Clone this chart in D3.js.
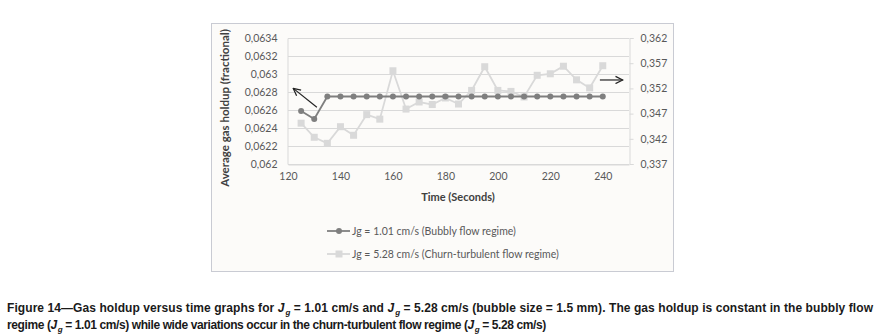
<!DOCTYPE html>
<html>
<head>
<meta charset="utf-8">
<script src="https://cdn.jsdelivr.net/npm/d3@7"></script>
<style>
  body { margin: 0; background: #fff; }
  svg .chart-text { font-family: Lato, "Open Sans", sans-serif; }
  svg .caption text { font-family: "Liberation Sans Narrow", "Liberation Sans", Arial, sans-serif; }
</style>
</head>
<body>
<div id="chart"></div>
<script>
// time (s), both series share it
const times = [125, 130, 135, 140, 145, 150, 155, 160, 165, 170, 175, 180,
               185, 190, 195, 200, 205, 210, 215, 220, 225, 230, 235, 240];

// Jg = 1.01 cm/s, left axis
const bubbly = [0.06259, 0.06250, 0.06275, 0.06275, 0.06275, 0.06275, 0.06275, 0.06275,
                0.06275, 0.06275, 0.06275, 0.06275, 0.06275, 0.06275, 0.06275, 0.06275,
                0.06275, 0.06275, 0.06275, 0.06275, 0.06275, 0.06275, 0.06275, 0.06275];

// Jg = 5.28 cm/s, right axis
const churn = [0.3451, 0.3423, 0.3411, 0.3444, 0.3427, 0.3468, 0.3459, 0.3555,
               0.3479, 0.3493, 0.3488, 0.3501, 0.3489, 0.3516, 0.3563, 0.3516,
               0.3514, 0.3503, 0.3546, 0.3549, 0.3564, 0.3537, 0.3521, 0.3565];

const xTicks = [120, 140, 160, 180, 200, 220, 240];
const leftTicks = [0.062, 0.0622, 0.0624, 0.0626, 0.0628, 0.063, 0.0632, 0.0634];
const rightTicks = [0.337, 0.342, 0.347, 0.352, 0.357, 0.362];

const legendLabels = ['Jg = 1.01 cm/s (Bubbly flow regime)',
                      'Jg = 5.28 cm/s (Churn-turbulent flow regime)'];

const width = 880, height = 334;
const plot = { left: 288, right: 629, top: 38, bottom: 164 };

const svg = d3.select('#chart').append('svg')
    .attr('width', width)
    .attr('height', height);

// comma decimal like the original
const locale = d3.formatLocale({ decimal: ',', thousands: '.', grouping: [3], currency: ['', ''] });
const fmt = locale.format('~');

// chart area box
svg.append('rect')
    .attr('x', 211.5).attr('y', 23.5)
    .attr('width', 462).attr('height', 248)
    .attr('fill', '#fcfbf9')
    .attr('stroke', '#c9cbd3');

// scales
const x = d3.scaleLinear().domain([120, 250]).range([plot.left, plot.right]);
const yL = d3.scaleLinear().domain([0.062, 0.0634]).range([plot.bottom, plot.top]);
const yR = d3.scaleLinear().domain([0.337, 0.362]).range([plot.bottom, plot.top]);

// gridlines from left axis
svg.append('g')
    .selectAll('line')
    .data(leftTicks)
    .enter()
    .append('line')
    .attr('x1', plot.left).attr('x2', plot.right)
    .attr('y1', d => Math.round(yL(d)) + 0.5)
    .attr('y2', d => Math.round(yL(d)) + 0.5)
    .attr('stroke', '#d9d9d9');

// left axis
const leftAxis = svg.append('g')
    .attr('transform', `translate(${plot.left - 0.5},0)`)
    .call(d3.axisLeft(yL).tickValues(leftTicks).tickFormat(fmt).tickSize(0).tickPadding(10));
leftAxis.select('.domain').attr('stroke', '#d9d9d9');
leftAxis.selectAll('text').attr('class', 'chart-text').attr('fill', '#595959').style('font-size', '10.5px');

// right axis
const rightAxis = svg.append('g')
    .attr('transform', `translate(${plot.right + 0.5},0)`)
    .call(d3.axisRight(yR).tickValues(rightTicks).tickFormat(fmt).tickSize(4).tickPadding(7));
rightAxis.select('.domain').attr('stroke', '#d9d9d9');
rightAxis.selectAll('line').attr('stroke', '#d9d9d9');
rightAxis.selectAll('text').attr('class', 'chart-text').attr('fill', '#595959').style('font-size', '10.5px');

// bottom axis
const bottomAxis = svg.append('g')
    .attr('transform', `translate(0,${plot.bottom + 0.5})`)
    .call(d3.axisBottom(x).tickValues(xTicks).tickFormat(d3.format('d')).tickSize(0).tickPadding(8));
bottomAxis.select('.domain').attr('stroke', '#d9d9d9');
bottomAxis.selectAll('text').attr('class', 'chart-text').attr('fill', '#595959').style('font-size', '10.5px');

// churn series (behind)
const churnData = times.map((t, i) => ({ t, v: churn[i] }));
svg.append('path')
    .datum(churnData)
    .attr('fill', 'none')
    .attr('stroke', '#d9d9d9')
    .attr('stroke-width', 1.8)
    .attr('d', d3.line().x(d => x(d.t)).y(d => yR(d.v)));
svg.append('g')
    .selectAll('rect')
    .data(churnData)
    .enter()
    .append('rect')
    .attr('x', d => x(d.t) - 3.5)
    .attr('y', d => yR(d.v) - 3.5)
    .attr('width', 7).attr('height', 7)
    .attr('fill', '#d9d9d9');

// bubbly series
const bubblyData = times.map((t, i) => ({ t, v: bubbly[i] }));
svg.append('path')
    .datum(bubblyData)
    .attr('fill', 'none')
    .attr('stroke', '#7f7f7f')
    .attr('stroke-width', 1.8)
    .attr('d', d3.line().x(d => x(d.t)).y(d => yL(d.v)));
svg.append('g')
    .selectAll('circle')
    .data(bubblyData)
    .enter()
    .append('circle')
    .attr('cx', d => x(d.t))
    .attr('cy', d => yL(d.v))
    .attr('r', 3)
    .attr('fill', '#7f7f7f');

// arrows pointing to each series' axis
svg.append('defs').append('marker')
    .attr('id', 'head')
    .attr('viewBox', '0 0 10 10')
    .attr('refX', 9).attr('refY', 5)
    .attr('markerWidth', 9).attr('markerHeight', 9)
    .attr('markerUnits', 'userSpaceOnUse')
    .attr('orient', 'auto')
    .append('path')
    .attr('d', 'M1,1 L9,5 L1,9')
    .attr('fill', 'none')
    .attr('stroke', '#222')
    .attr('stroke-width', 1.4);

svg.append('line')
    .attr('x1', x(131)).attr('y1', yL(0.06263))
    .attr('x2', x(122)).attr('y2', yL(0.06284))
    .attr('stroke', '#222').attr('stroke-width', 1.2)
    .attr('marker-end', 'url(#head)');

svg.append('line')
    .attr('x1', x(238.9)).attr('y1', yR(0.35367))
    .attr('x2', x(247.6)).attr('y2', yR(0.35367))
    .attr('stroke', '#222').attr('stroke-width', 1.2)
    .attr('marker-end', 'url(#head)');

// axis titles
svg.append('text')
    .attr('class', 'chart-text')
    .attr('transform', 'translate(229,108) rotate(-90)')
    .attr('text-anchor', 'middle')
    .style('font-size', '11.5px')
    .style('font-weight', 'bold')
    .attr('fill', '#404040')
    .text('Average gas holdup (fractional)');

svg.append('text')
    .attr('class', 'chart-text')
    .attr('x', 458).attr('y', 201)
    .attr('text-anchor', 'middle')
    .style('font-size', '11px')
    .style('font-weight', 'bold')
    .attr('fill', '#404040')
    .text('Time (Seconds)');

// legend
const legend = svg.selectAll('.legend')
    .data(legendLabels)
    .enter()
    .append('g')
    .attr('class', 'legend')
    .attr('transform', (d, i) => `translate(327,${231 + i * 23})`);

legend.append('line')
    .attr('x1', 0).attr('x2', 23)
    .attr('stroke', (d, i) => i === 0 ? '#7f7f7f' : '#d9d9d9')
    .attr('stroke-width', 1.8);
legend.filter((d, i) => i === 0).append('circle')
    .attr('cx', 12).attr('r', 3).attr('fill', '#7f7f7f');
legend.filter((d, i) => i === 1).append('rect')
    .attr('x', 8.5).attr('y', -3.5).attr('width', 7).attr('height', 7).attr('fill', '#d9d9d9');
legend.append('text')
    .attr('class', 'chart-text')
    .attr('x', 25).attr('dy', '0.35em')
    .style('font-size', '10.5px')
    .attr('fill', '#595959')
    .text(d => d);

// figure caption, Jg written as italic J with subscript g
const caption = svg.append('g')
    .attr('class', 'caption')
    .style('font-size', '12px')
    .style('font-weight', 'bold')
    .attr('fill', '#1a1a1a');

function addJg(textSel) {
    textSel.append('tspan').style('font-style', 'italic').text('J');
    textSel.append('tspan').style('font-style', 'italic').attr('dx', 1).attr('dy', 3)
        .style('font-size', '8px').text('g');
}

const line1 = caption.append('text').attr('x', 7).attr('y', 312);
line1.append('tspan').text('Figure 14\u2014Gas holdup versus time graphs for ');
addJg(line1);
line1.append('tspan').attr('dy', -3).text(' = 1.01 cm/s and ');
addJg(line1);
line1.append('tspan').attr('dy', -3).text(' = 5.28 cm/s (bubble size = 1.5 mm). The gas holdup is constant in the bubbly flow');

const line2 = caption.append('text').attr('x', 7).attr('y', 329)
    .style('letter-spacing', '-0.4px');
line2.append('tspan').text('regime (');
addJg(line2);
line2.append('tspan').attr('dy', -3).text(' = 1.01 cm/s) while wide variations occur in the churn-turbulent flow regime (');
addJg(line2);
line2.append('tspan').attr('dy', -3).text(' = 5.28 cm/s)');

// stretch line 1 to the full caption width, as in the figure
const w1 = line1.node().getComputedTextLength();
if (w1 < 866) line1.attr('textLength', 866).attr('lengthAdjust', 'spacing');
</script>
</body>
</html>
